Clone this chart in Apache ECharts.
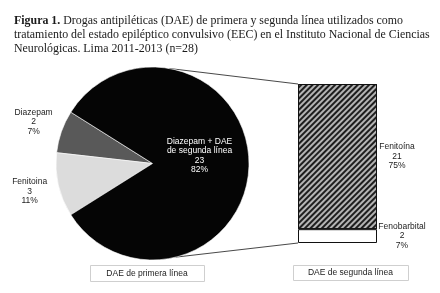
<!DOCTYPE html>
<html>
<head>
<meta charset="utf-8">
<script src="https://cdn.jsdelivr.net/npm/echarts@6/dist/echarts.min.js"></script>
<style>html,body{margin:0;padding:0;background:#fff;}#c{width:440px;height:293px;}</style>
</head>
<body>
<div id="c"></div>
<script>
// ---- data ----
const pieNames = ['Diazepam', 'Fenitoina', 'Diazepam + DAE\nde segunda línea'];
const pieValues = [2, 3, 23];
const barNames = ['Fenobarbital', 'Fenitoína'];
const barValues = [2, 21];
const boxLabels = ['DAE de primera línea', 'DAE de segunda línea'];
const titleLines = [
  'Drogas antipiléticas (DAE) de primera y segunda línea utilizados como',
  'tratamiento del estado epiléptico convulsivo (EEC) en el Instituto Nacional de Ciencias',
  'Neurológicas. Lima 2011-2013 (n=28)'
];
const titleLead = 'Figura 1.';

// ---- layout constants ----
const CX = 152.5, CY = 163.5, R = 96.5;
const total = pieValues.reduce((a, b) => a + b, 0);
const smallSum = pieValues[0] + pieValues[1];
const startAngle = 180 - (smallSum / total * 360) / 2;
const pct = v => Math.round(v / total * 100) + '%';
const SANS = '"Liberation Sans", Arial, sans-serif';
const SERIF = '"Liberation Serif", "Times New Roman", serif';
const GRID = { left: 298, top: 84, width: 79, height: 159 };

// mid angles of pie slices (degrees, counterclockwise from east)
const midAngles = [];
{
  let a = startAngle;
  pieValues.forEach(v => { const s = v / total * 360; midAngles.push(a + s / 2); a += s; });
}

const chart = echarts.init(document.getElementById('c'), null, { renderer: 'canvas' });

chart.setOption({
  animation: false,
  backgroundColor: '#fff',
  title: {
    left: 9, top: 9,
    text: '{b|' + titleLead + '} ' + titleLines.join('\n'),
    textStyle: {
      fontFamily: SERIF, fontSize: 11.9, fontWeight: 'normal', color: '#1a1a1a', lineHeight: 14,
      rich: { b: { fontFamily: SERIF, fontSize: 11.9, fontWeight: 'bold', color: '#1a1a1a', lineHeight: 14 } }
    }
  },
  grid: GRID,
  xAxis: { type: 'category', data: ['DAE de segunda línea'], show: false },
  yAxis: { type: 'value', min: 0, max: barValues.reduce((a, b) => a + b, 0), show: false },
  series: [
    {
      type: 'pie',
      center: [CX, CY],
      radius: R,
      startAngle: startAngle,
      clockwise: false,
      silent: true,
      avoidLabelOverlap: false,
      itemStyle: { borderColor: '#fff', borderWidth: 0.6 },
      label: {
        show: true, position: 'inside',
        fontFamily: SANS, fontSize: 8.5, lineHeight: 9.5, color: '#222',
        formatter: p => p.name + '\n' + p.value + '\n' + pct(p.value)
      },
      labelLine: { show: false },
      labelLayout: p => {
        const i = p.dataIndex;
        const lr = i === 2 ? 47 : 126;
        const a = midAngles[i] * Math.PI / 180;
        return {
          x: CX + lr * Math.cos(a),
          y: CY - lr * Math.sin(a) - (i === 2 ? 8 : 0),
          align: 'center', verticalAlign: 'middle'
        };
      },
      data: pieValues.map((v, i) => ({
        name: pieNames[i], value: v,
        itemStyle: { color: ['#595959', '#dcdcdc', '#050505'][i] },
        label: { color: i === 2 ? '#fff' : '#222' }
      }))
    },
    {
      type: 'bar', stack: 's', barWidth: '100%', silent: true,
      data: [barValues[0]],
      name: barNames[0],
      itemStyle: { color: '#fff', borderColor: '#111', borderWidth: 1 },
      label: {
        show: true, position: 'right', distance: 25, align: 'center',
        fontFamily: SANS, fontSize: 8.5, lineHeight: 9.5, color: '#222',
        formatter: p => p.seriesName + '\n' + p.value + '\n' + pct(p.value)
      }
    },
    {
      type: 'bar', stack: 's', barWidth: '100%', silent: true,
      data: [barValues[1]],
      name: barNames[1],
      itemStyle: {
        color: '#b4b4b4', borderColor: '#111', borderWidth: 1,
        decal: { symbol: 'rect', symbolSize: 1, dashArrayX: [1, 0], dashArrayY: [1.8, 1.2], rotation: -Math.PI / 4, color: '#1e1e1e' }
      },
      label: {
        show: true, position: 'right', distance: 20, align: 'center',
        fontFamily: SANS, fontSize: 8.5, lineHeight: 9.5, color: '#222',
        formatter: p => p.seriesName + '\n' + p.value + '\n' + pct(p.value)
      }
    }
  ]
});

// connector lines from pie to bar corners
const yTop = chart.convertToPixel({ yAxisIndex: 0 }, barValues[0] + barValues[1]);
const yBot = chart.convertToPixel({ yAxisIndex: 0 }, 0);
const xBar = GRID.left;
const aTop = 80 * Math.PI / 180, aBot = -76 * Math.PI / 180;
function box(label, x, y, w, h) {
  return {
    type: 'group', children: [
      { type: 'rect', shape: { x: x + 0.5, y: y + 0.5, width: w, height: h }, style: { fill: '#fff', stroke: '#cfcfcf', lineWidth: 1 } },
      { type: 'text', x: x + w / 2, y: y + h / 2 + 0.5, style: { text: label, font: '8.5px ' + SANS, fill: '#222', align: 'center', verticalAlign: 'middle' } }
    ]
  };
}
chart.setOption({
  graphic: [
    { type: 'line', shape: { x1: CX + R * Math.cos(aTop), y1: CY - R * Math.sin(aTop), x2: xBar, y2: yTop }, style: { stroke: '#333', lineWidth: 0.9 } },
    { type: 'line', shape: { x1: CX + R * Math.cos(aBot), y1: CY - R * Math.sin(aBot), x2: xBar, y2: yBot }, style: { stroke: '#333', lineWidth: 0.9 } },
    box(boxLabels[0], 90, 265, 114, 16),
    box(boxLabels[1], 293, 265, 115, 15)
  ]
});
</script>
</body>
</html>
